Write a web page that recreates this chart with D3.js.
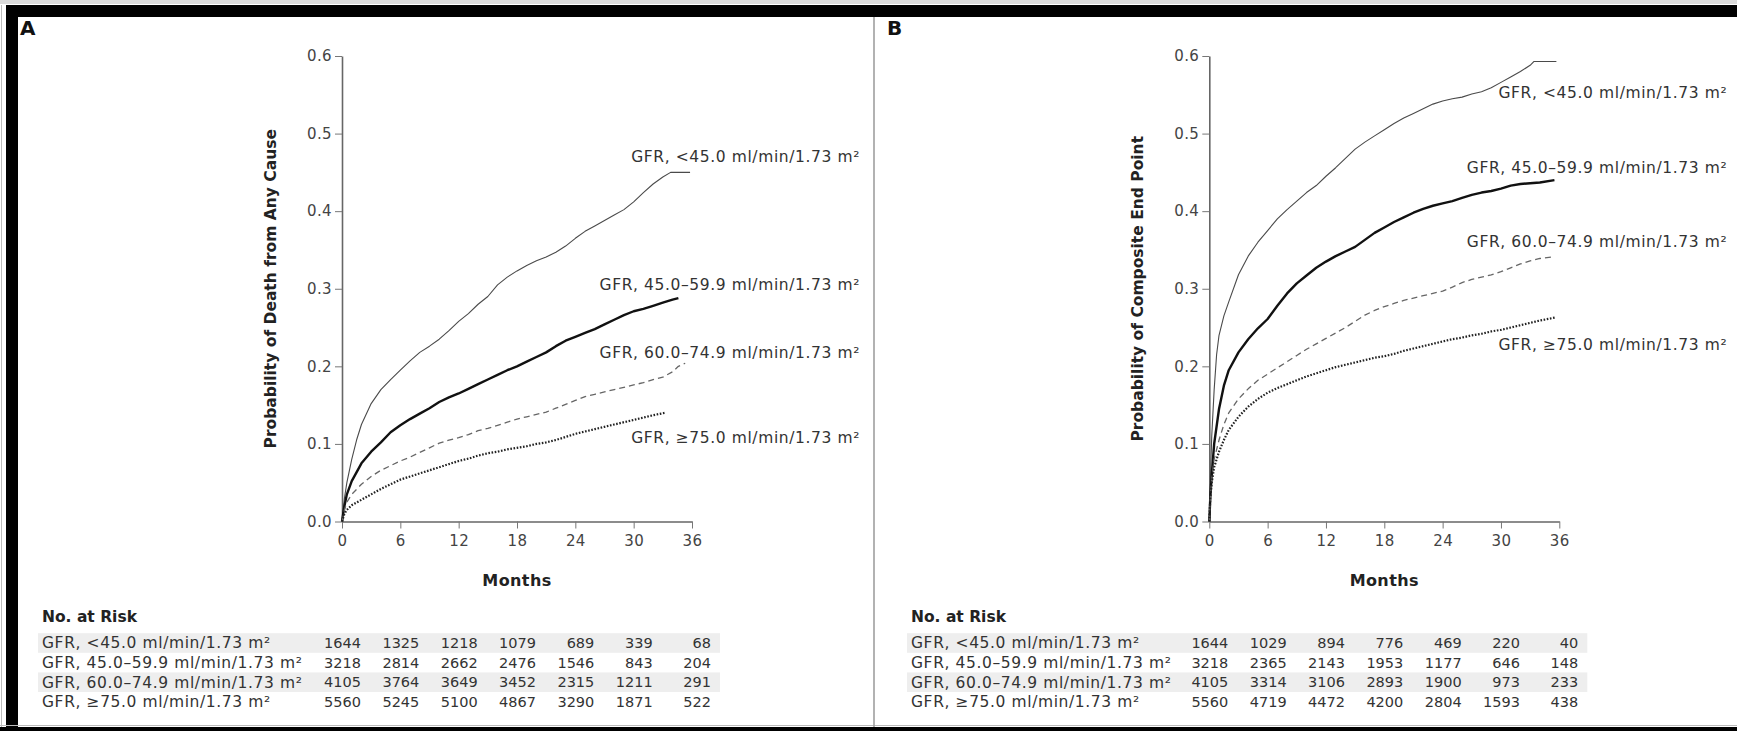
<!DOCTYPE html>
<html>
<head>
<meta charset="utf-8">
<script src="https://cdn.jsdelivr.net/npm/d3@7"></script>
<style>
  body { margin: 0; background: #fff; }
  text { font-family: "DejaVu Sans", "Liberation Sans", sans-serif; }
</style>
</head>
<body>
<script>
const W = 1737
const H = 731

// x ticks (months) and y ticks
const months = [0, 6, 12, 18, 24, 30, 36]
const probTicks = [0, 0.1, 0.2, 0.3, 0.4, 0.5, 0.6]

const groups = [
  'GFR, <45.0 ml/min/1.73 m²',
  'GFR, 45.0–59.9 ml/min/1.73 m²',
  'GFR, 60.0–74.9 ml/min/1.73 m²',
  'GFR, ≥75.0 ml/min/1.73 m²'
]

// panel A: probability of death from any cause, [month, probability]
const deathLt45 = [[0,0],[0.25,0.03],[0.5,0.05],[1,0.08],[1.5,0.105],[2,0.125],[3,0.152],[4,0.17],[5,0.183],[6,0.195],[7,0.207],[8,0.218],[9,0.226],[10,0.235],[11,0.246],[12,0.258],[13,0.268],[14,0.28],[15,0.29],[16,0.305],[17,0.315],[18,0.323],[19,0.33],[20,0.336],[21,0.341],[22,0.347],[23,0.355],[24,0.365],[25,0.374],[26,0.381],[27,0.388],[28,0.395],[29,0.402],[30,0.412],[31,0.424],[32,0.435],[33,0.444],[33.8,0.45],[35.8,0.45]]
const death45to60 = [[0,0],[0.25,0.02],[0.5,0.035],[1,0.052],[2,0.075],[3,0.09],[4,0.102],[5,0.115],[6,0.124],[7,0.132],[8,0.139],[9,0.146],[10,0.154],[11,0.16],[12,0.165],[13,0.171],[14,0.177],[15,0.183],[16,0.189],[17,0.195],[18,0.2],[19,0.206],[20,0.212],[21,0.218],[22,0.226],[23,0.233],[24,0.238],[25,0.243],[26,0.248],[27,0.254],[28,0.26],[29,0.266],[30,0.271],[31,0.274],[32,0.278],[33,0.282],[34,0.286],[34.6,0.288]]
const death60to75 = [[0,0],[0.25,0.015],[0.5,0.025],[1,0.035],[2,0.048],[3,0.058],[4,0.066],[5,0.072],[6,0.078],[7,0.083],[8,0.089],[9,0.095],[10,0.101],[11,0.105],[12,0.108],[13,0.112],[14,0.117],[15,0.12],[16,0.124],[17,0.128],[18,0.132],[19,0.135],[20,0.138],[21,0.141],[22,0.146],[23,0.151],[24,0.156],[25,0.161],[26,0.164],[27,0.167],[28,0.17],[29,0.173],[30,0.176],[31,0.179],[32,0.183],[33,0.186],[34,0.193],[34.6,0.2],[35.3,0.204]]
const deathGe75 = [[0,0],[0.25,0.01],[0.5,0.015],[1,0.021],[2,0.028],[3,0.035],[4,0.042],[5,0.048],[6,0.054],[7,0.058],[8,0.062],[9,0.066],[10,0.07],[11,0.074],[12,0.078],[13,0.081],[14,0.085],[15,0.088],[16,0.09],[17,0.093],[18,0.095],[19,0.097],[20,0.1],[21,0.102],[22,0.105],[23,0.109],[24,0.113],[25,0.116],[26,0.119],[27,0.122],[28,0.125],[29,0.128],[30,0.131],[31,0.134],[32,0.137],[33.2,0.14]]

// panel B: probability of composite end point
const compLt45 = [[0,0],[0.1,0.05],[0.25,0.11],[0.5,0.17],[0.75,0.215],[1,0.24],[1.5,0.265],[2,0.283],[3,0.318],[4,0.342],[5,0.36],[6,0.375],[7,0.39],[8,0.402],[9,0.413],[10,0.424],[11,0.433],[12,0.445],[13,0.456],[14,0.468],[15,0.48],[16,0.489],[17,0.497],[18,0.505],[19,0.513],[20,0.52],[21,0.526],[22,0.532],[23,0.538],[24,0.542],[25,0.545],[26,0.547],[27,0.551],[28,0.554],[29,0.559],[30,0.566],[31,0.573],[32,0.58],[33,0.588],[33.4,0.593],[35.7,0.593]]
const comp45to60 = [[0,0],[0.1,0.03],[0.25,0.06],[0.5,0.1],[1,0.145],[1.5,0.175],[2,0.195],[3,0.218],[4,0.235],[5,0.249],[6,0.261],[7,0.278],[8,0.294],[9,0.307],[10,0.317],[11,0.327],[12,0.335],[13,0.342],[14,0.348],[15,0.354],[16,0.363],[17,0.372],[18,0.379],[19,0.386],[20,0.392],[21,0.398],[22,0.403],[23,0.407],[24,0.41],[25,0.413],[26,0.417],[27,0.421],[28,0.424],[29,0.426],[30,0.429],[31,0.433],[32,0.435],[33,0.436],[34,0.437],[35.5,0.44]]
const comp60to75 = [[0,0],[0.1,0.03],[0.25,0.055],[0.5,0.08],[1,0.105],[1.5,0.125],[2,0.14],[3,0.158],[4,0.171],[5,0.182],[6,0.19],[7,0.198],[8,0.206],[9,0.214],[10,0.222],[11,0.229],[12,0.236],[13,0.243],[14,0.25],[15,0.258],[16,0.266],[17,0.272],[18,0.277],[19,0.281],[20,0.285],[21,0.288],[22,0.291],[23,0.294],[24,0.297],[25,0.302],[26,0.308],[27,0.312],[28,0.315],[29,0.318],[30,0.322],[31,0.327],[32,0.332],[33,0.336],[34,0.339],[35.2,0.341]]
const compGe75 = [[0,0],[0.1,0.03],[0.25,0.05],[0.5,0.07],[1,0.09],[1.5,0.105],[2,0.118],[3,0.135],[4,0.148],[5,0.158],[6,0.166],[7,0.172],[8,0.177],[9,0.182],[10,0.187],[11,0.191],[12,0.195],[13,0.199],[14,0.202],[15,0.205],[16,0.208],[17,0.211],[18,0.213],[19,0.216],[20,0.22],[21,0.223],[22,0.226],[23,0.229],[24,0.232],[25,0.235],[26,0.237],[27,0.24],[28,0.242],[29,0.245],[30,0.247],[31,0.25],[32,0.253],[33,0.256],[34,0.259],[35.6,0.263]]

// no. at risk, one row per group, one column per month tick
const atRiskDeath = [
  [1644, 1325, 1218, 1079, 689, 339, 68],
  [3218, 2814, 2662, 2476, 1546, 843, 204],
  [4105, 3764, 3649, 3452, 2315, 1211, 291],
  [5560, 5245, 5100, 4867, 3290, 1871, 522]
]
const atRiskComp = [
  [1644, 1029, 894, 776, 469, 220, 40],
  [3218, 2365, 2143, 1953, 1177, 646, 148],
  [4105, 3314, 3106, 2893, 1900, 973, 233],
  [5560, 4719, 4472, 4200, 2804, 1593, 438]
]

// line look for each group (thin, thick, dashed, dotted)
const lineStyles = [
  { w: 1.1, c: '#4a4a4a', dash: null },
  { w: 2.4, c: '#111', dash: null },
  { w: 1.3, c: '#666', dash: '6,4' },
  { w: 2.2, c: '#222', dash: '1.6,1.6' }
]

const svg = d3.select('body').append('svg')
  .attr('width', W)
  .attr('height', H)

// frame
svg.append('rect').attr('width', W).attr('height', H).attr('fill', '#fff')
svg.append('rect').attr('x', 0).attr('y', 0).attr('width', W).attr('height', 4).attr('fill', '#dadada')
svg.append('rect').attr('x', 6).attr('y', 5).attr('width', W - 6).attr('height', 12).attr('fill', '#000')
svg.append('rect').attr('x', 6).attr('y', 5).attr('width', 12).attr('height', 722).attr('fill', '#000')
svg.append('rect').attr('x', 1).attr('y', 5).attr('width', 1).attr('height', 722).attr('fill', '#bbb')
svg.append('rect').attr('x', 0).attr('y', 725).attr('width', W).attr('height', 1).attr('fill', '#bbb')
svg.append('rect').attr('x', 0).attr('y', 727).attr('width', W).attr('height', 4).attr('fill', '#000')
svg.append('line')
  .attr('x1', 874).attr('x2', 874).attr('y1', 17).attr('y2', 727)
  .attr('stroke', '#999').attr('stroke-width', 1.5)

const yTop = 56
const yBottom = 521.5

const drawPanel = p => {
  const xScale = d3.scaleLinear()
    .domain([0, 36])
    .range([p.x0, p.x0 + 350])

  const yScale = d3.scaleLinear()
    .domain([0, 0.6])
    .range([yBottom, yTop])

  const g = svg.append('g')

  g.append('text')
    .attr('x', p.letterX).attr('y', 35)
    .attr('font-size', 20).attr('font-weight', 'bold').attr('fill', '#111')
    .text(p.letter)

  const xAxis = d3.axisBottom(xScale)
    .tickValues(months)
    .tickFormat(d3.format('d'))
    .tickSize(7)
    .tickSizeOuter(0)
    .tickPadding(7)

  const yAxis = d3.axisLeft(yScale)
    .tickValues(probTicks)
    .tickFormat(d3.format('.1f'))
    .tickSize(7)
    .tickSizeOuter(0)
    .tickPadding(3)

  const xAxisG = g.append('g')
    .attr('transform', `translate(0, ${yBottom})`)
    .call(xAxis)
  const yAxisG = g.append('g')
    .attr('transform', `translate(${p.x0}, 0)`)
    .call(yAxis)

  ;[xAxisG, yAxisG].forEach(a => {
    a.select('.domain').attr('stroke', '#666').attr('stroke-width', 1.6)
    a.selectAll('.tick line').attr('stroke', '#777').attr('stroke-width', 1)
    a.selectAll('.tick text')
      .attr('font-family', '"DejaVu Sans", sans-serif')
      .attr('font-size', 15).attr('fill', '#444').attr('letter-spacing', 0.4)
  })

  // axis titles
  g.append('text')
    .attr('transform', `translate(${p.x0 - 66}, ${(yTop + yBottom) / 2}) rotate(-90)`)
    .attr('text-anchor', 'middle')
    .attr('font-size', 15.5).attr('font-weight', 'bold').attr('fill', '#222')
    .text(p.yTitle)

  g.append('text')
    .attr('x', xScale(18)).attr('y', 580).attr('dy', '0.35em')
    .attr('text-anchor', 'middle')
    .attr('font-size', 16).attr('font-weight', 'bold').attr('fill', '#222')
    .attr('letter-spacing', 0.4)
    .text('Months')

  // curves
  const line = d3.line()
    .x(d => xScale(d[0]))
    .y(d => yScale(d[1]))

  p.series.forEach((s, i) => {
    const st = lineStyles[i]
    g.append('path')
      .datum(s)
      .attr('d', line)
      .attr('fill', 'none')
      .attr('stroke', st.c)
      .attr('stroke-width', st.w)
      .attr('stroke-dasharray', st.dash)
      .attr('stroke-linejoin', 'round')
  })

  // curve labels, right aligned
  groups.forEach((name, i) => {
    g.append('text')
      .attr('x', xScale(36) + 168).attr('y', p.labelY[i]).attr('dy', '0.35em')
      .attr('text-anchor', 'end')
      .attr('font-size', 15.5).attr('fill', '#333').attr('letter-spacing', 0.6)
      .text(name)
  })

  // no. at risk table
  g.append('text')
    .attr('x', p.tableX).attr('y', 617).attr('dy', '0.35em')
    .attr('font-size', 15.5).attr('font-weight', 'bold').attr('fill', '#222')
    .text('No. at Risk')

  const rowY = i => 643 + i * 19.6

  p.atRisk.forEach((row, i) => {
    if (i % 2 === 0) {
      g.append('rect')
        .attr('x', p.tableX - 4).attr('y', rowY(i) - 9.8)
        .attr('width', xScale(36) + 28 - (p.tableX - 4)).attr('height', 19.6)
        .attr('fill', '#eeeeee')
    }
    g.append('text')
      .attr('x', p.tableX).attr('y', rowY(i)).attr('dy', '0.35em')
      .attr('font-size', 15.5).attr('fill', '#333').attr('letter-spacing', 0.6)
      .text(groups[i])
    g.selectAll(null).data(row).enter().append('text')
      .attr('x', (d, j) => xScale(months[j]) + 19)
      .attr('y', rowY(i)).attr('dy', '0.35em')
      .attr('text-anchor', 'end')
      .attr('font-size', 14.5).attr('fill', '#333')
      .text(d => d)
  })
}

drawPanel({
  letter: 'A', letterX: 20, x0: 342, tableX: 42,
  yTitle: 'Probability of Death from Any Cause',
  series: [deathLt45, death45to60, death60to75, deathGe75],
  labelY: [157, 285, 353, 438],
  atRisk: atRiskDeath
})

drawPanel({
  letter: 'B', letterX: 887, x0: 1209.3, tableX: 911,
  yTitle: 'Probability of Composite End Point',
  series: [compLt45, comp45to60, comp60to75, compGe75],
  labelY: [93, 168, 242, 345],
  atRisk: atRiskComp
})
</script>
</body>
</html>
